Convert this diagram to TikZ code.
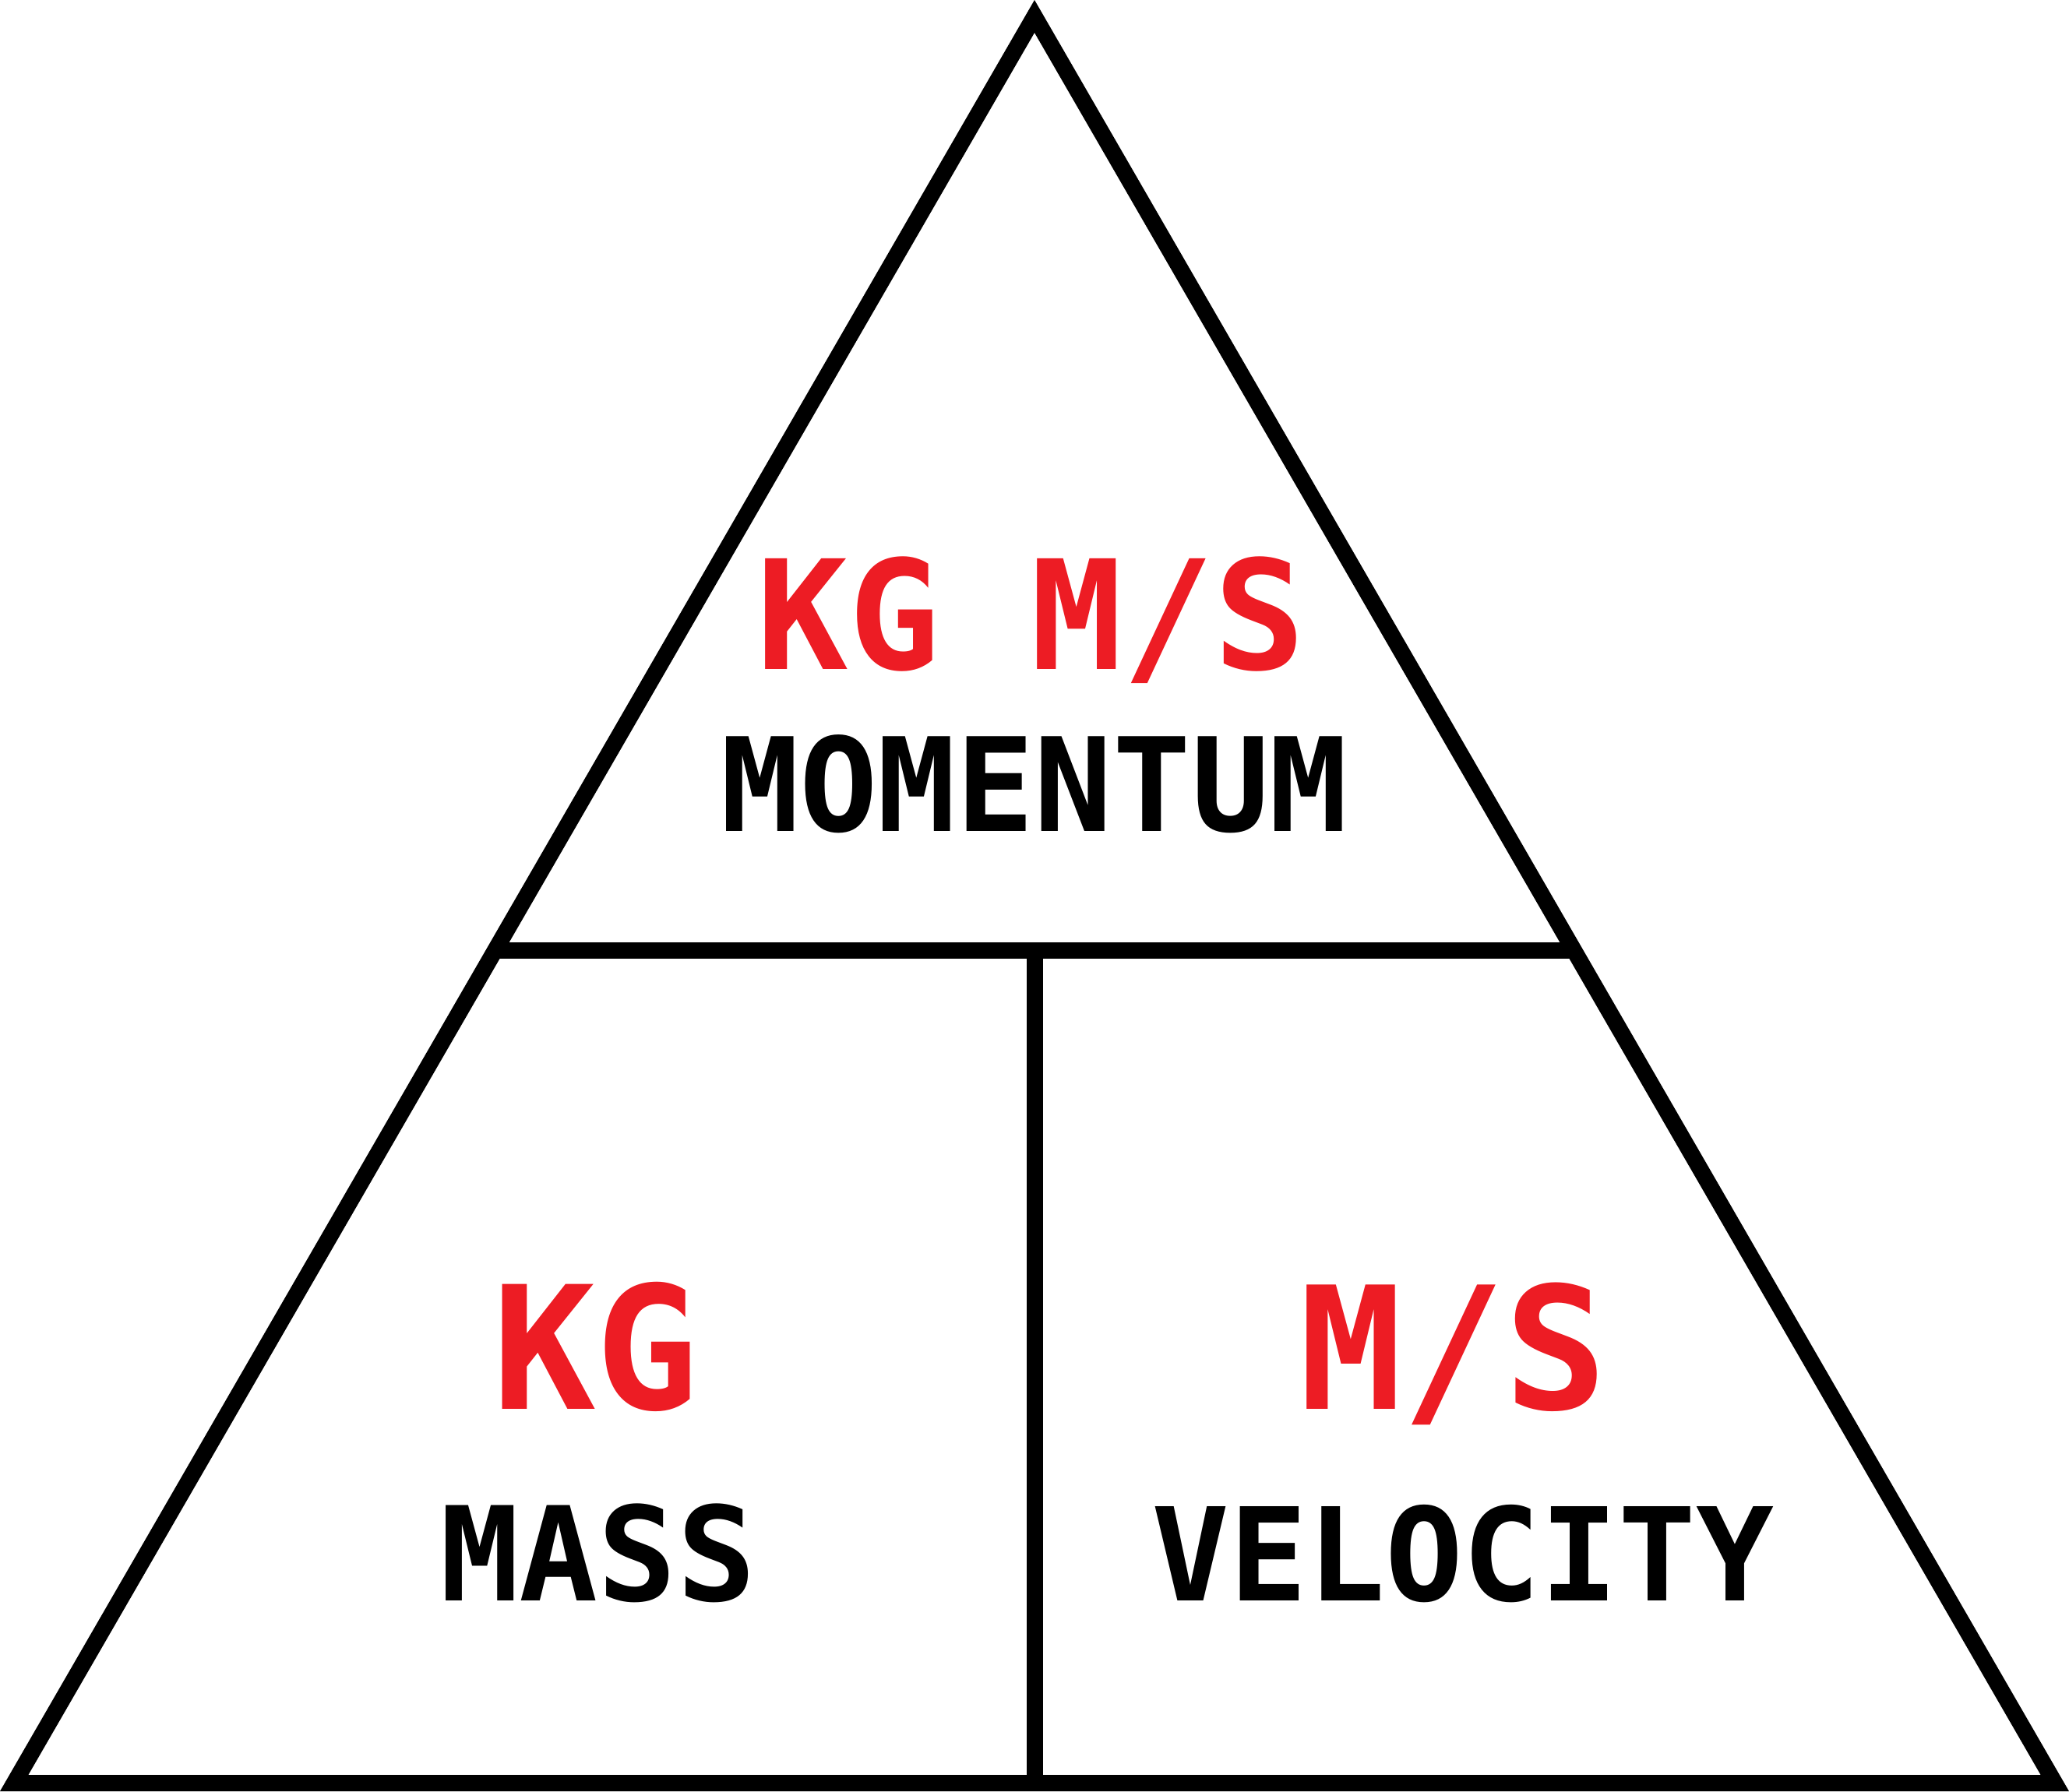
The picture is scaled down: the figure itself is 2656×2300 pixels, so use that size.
\documentclass[tikz,border=0pt]{standalone}
\usepackage{fontspec}
\newfontfamily\lblfont{DejaVu Sans Mono}
\usetikzlibrary{calc}
\definecolor{unitred}{HTML}{ED1C24}
\tikzset{
  frame/.style={line width=21pt, line join=miter, draw=black},
  unit/.style={inner sep=0pt, anchor=base, text=unitred, font=\lblfont\bfseries\fontsize{#1}{#1}\selectfont},
  qty/.style={inner sep=0pt, anchor=base, text=black, font=\lblfont\bfseries\fontsize{#1}{#1}\selectfont}
}
\begin{document}
\begin{tikzpicture}[x=1pt,y=-1pt]
\useasboundingbox (0,0) rectangle (2656,2300);
\coordinate (A) at (1328,21);
\coordinate (BL) at (18.2,2289.5);
\coordinate (BR) at (2637.8,2289.5);
\coordinate (HL) at ($(A)!0.5288!(BL)$);
\coordinate (HR) at ($(A)!0.5288!(BR)$);
\coordinate (HM) at (1328,1220.5);
\coordinate (BM) at (1328,2289.5);
\draw[frame] (A) -- (BL) -- (BR) -- cycle;
\draw[frame] (HL) -- (HR);
\draw[frame] (HM) -- (BM);
\node[unit=195] (topunit) at (1324,859) {KG M/S};
\node[qty=167] (momentum) at (1328,1067) {MOMENTUM};
\node[unit=220] (massunit) at (765,1809) {KG};
\node[unit=219] (velunit) at (1866,1809) {M/S};
\node[qty=168] (mass) at (768,2055) {MASS};
\node[qty=166] (velocity) at (1878,2055) {VELOCITY};
\end{tikzpicture}
\end{document}
